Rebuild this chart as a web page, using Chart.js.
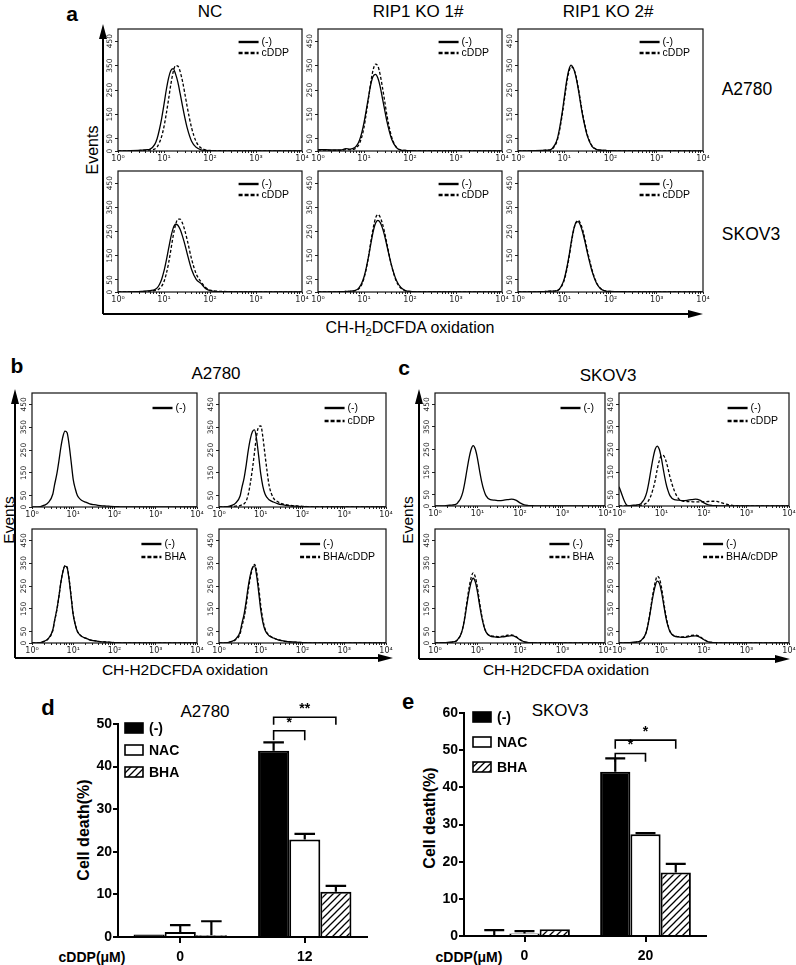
<!DOCTYPE html>
<html>
<head>
<meta charset="utf-8">
<script src="https://cdn.jsdelivr.net/npm/chart.js@4.4.1/dist/chart.umd.min.js"></script>
<style>
  body { margin: 0; width: 796px; height: 965px; position: relative; overflow: hidden; background: #fff;
         font-family: 'Liberation Sans', Arial, sans-serif; color: #000; }
  canvas { position: absolute; }
  .t { position: absolute; white-space: nowrap; line-height: 1; transform: translate(-50%, -50%); }
  .r { transform: translate(-50%, -50%) rotate(-90deg); }
  .b { font-weight: bold; }
  .n { font-family: 'Liberation Sans Narrow', 'Liberation Sans', Arial, sans-serif; font-weight: bold; }
  sub { font-size: 70%; vertical-align: -3px; line-height: 0; }
</style>
</head>
<body>
<svg width="796" height="965" style="position:absolute;left:0;top:0" stroke="#000" stroke-width="2" fill="#000">
  <line x1="103" y1="314" x2="103" y2="36"/><polygon stroke="none" points="103,24 99,39 107,39"/>
  <line x1="103" y1="314" x2="690" y2="314"/><polygon stroke="none" points="703,314 688,310 688,318"/>
  <line x1="15" y1="658" x2="15" y2="402"/><polygon stroke="none" points="15,389 11,404 19,404"/>
  <line x1="15" y1="658" x2="380" y2="658"/><polygon stroke="none" points="393,658 378,654 378,662"/>
  <line x1="419" y1="659" x2="419" y2="402"/><polygon stroke="none" points="419,389 415,404 423,404"/>
  <line x1="419" y1="659" x2="776" y2="659"/><polygon stroke="none" points="790,659 775,655 775,663"/>
</svg>

<div class="t b" style="left:72px;top:13px;font-size:21px">a</div>
<div class="t" style="left:210px;top:11px;font-size:17px">NC</div>
<div class="t" style="left:418px;top:11px;font-size:17px">RIP1 KO 1#</div>
<div class="t" style="left:608px;top:11px;font-size:17px">RIP1 KO 2#</div>
<div class="t" style="left:747px;top:90px;font-size:17.5px">A2780</div>
<div class="t" style="left:751px;top:235px;font-size:17.5px">SKOV3</div>
<div class="t r" style="left:93px;top:150px;font-size:16px">Events</div>
<div class="t" style="left:410px;top:328px;font-size:16px">CH-H<sub>2</sub>DCFDA oxidation</div>

<div class="t b" style="left:17px;top:365px;font-size:21px">b</div>
<div class="t" style="left:216px;top:373px;font-size:17px">A2780</div>
<div class="t r" style="left:9px;top:520px;font-size:15.5px">Events</div>
<div class="t" style="left:185px;top:670px;font-size:15.5px">CH-H2DCFDA oxidation</div>

<div class="t b" style="left:404px;top:367px;font-size:21px">c</div>
<div class="t" style="left:608px;top:375px;font-size:17px">SKOV3</div>
<div class="t r" style="left:408px;top:520px;font-size:15.5px">Events</div>
<div class="t" style="left:566px;top:670px;font-size:15.5px">CH-H2DCFDA oxidation</div>

<div class="t b" style="left:48px;top:708px;font-size:22px">d</div>
<div class="t" style="left:205px;top:711px;font-size:17px">A2780</div>
<div class="t r n" style="left:84px;top:830px;font-size:16px">Cell death(%)</div>
<div class="t n" style="left:92px;top:957px;font-size:14px">cDDP(μM)</div>

<div class="t b" style="left:408px;top:702px;font-size:22px">e</div>
<div class="t" style="left:560px;top:710px;font-size:17px">SKOV3</div>
<div class="t r n" style="left:430px;top:818px;font-size:16px">Cell death(%)</div>
<div class="t n" style="left:469px;top:957px;font-size:14px">cDDP(μM)</div>

<script>
// ---------- flow histogram data (fluorescence channel -> events) ----------
const channelsA = [1, 3.2, 4, 5, 6.3, 7.1, 7.9, 8.9, 10, 11.2, 12.6, 14.1, 15.8, 17.8, 20, 22.4, 25.1, 28.2, 31.6, 39.8, 50.1, 63.1, 79.4, 100, 200, 1000, 10000];
const channelsBC = [1, 1.6, 2, 2.5, 3.2, 3.5, 4, 4.5, 5, 5.6, 6.3, 7.1, 7.9, 8.9, 10, 11.2, 12.6, 14.1, 15.8, 20, 25.1, 31.6, 39.8, 50.1, 63.1, 79.4, 100, 126, 158, 200, 251, 316, 501, 1000, 10000];

// panel a, A2780 row
const a2780NcCtrl = [0, 3, 5, 8, 27, 51, 86, 134, 191, 250, 300, 330, 338, 316, 282, 236, 187, 139, 98, 40, 15, 5, 2, 1, 0, 0, 0];
const a2780NcCddp = [0, 2, 3, 4, 8, 17, 33, 60, 100, 152, 213, 274, 323, 350, 348, 326, 288, 238, 186, 95, 38, 13, 5, 2, 1, 0, 0];
const a2780Ko1Ctrl = [6, 4, 10, 8, 14, 25, 42, 73, 116, 168, 224, 274, 306, 314, 299, 265, 217, 168, 120, 49, 15, 4, 2, 1, 0, 0, 0];
const a2780Ko1Cddp = [4, 2, 6, 5, 9, 16, 29, 56, 97, 154, 219, 283, 333, 356, 348, 314, 262, 204, 145, 58, 17, 4, 2, 1, 0, 0, 0];
const a2780Ko2Ctrl = [0, 2, 3, 5, 26, 51, 92, 150, 218, 284, 333, 352, 339, 306, 256, 198, 143, 98, 61, 19, 6, 3, 2, 1, 0, 0, 0];
const a2780Ko2Cddp = [0, 2, 3, 4, 22, 45, 84, 140, 206, 272, 324, 345, 338, 310, 262, 206, 150, 104, 66, 21, 7, 3, 2, 1, 0, 0, 0];
// panel a, SKOV3 row
const skov3NcCtrl = [0, 2, 4, 6, 10, 17, 30, 53, 87, 130, 180, 227, 263, 280, 276, 259, 232, 199, 162, 93, 52, 36, 15, 6, 1, 0, 0];
const skov3NcCddp = [0, 1, 2, 4, 6, 8, 13, 24, 43, 75, 120, 174, 231, 277, 301, 301, 285, 256, 219, 136, 75, 43, 20, 8, 2, 0, 0];
const skov3Ko1Ctrl = [0, 1, 2, 3, 6, 10, 19, 36, 62, 100, 148, 200, 249, 284, 296, 288, 265, 231, 190, 109, 50, 19, 6, 2, 0, 0, 0];
const skov3Ko1Cddp = [0, 1, 2, 3, 5, 8, 15, 30, 57, 96, 149, 208, 263, 305, 320, 310, 283, 244, 198, 108, 46, 16, 5, 2, 0, 0, 0];
const skov3Ko2Ctrl = [0, 1, 2, 3, 4, 6, 13, 29, 54, 94, 146, 204, 255, 286, 291, 275, 246, 206, 163, 86, 35, 11, 4, 2, 1, 0, 0];
const skov3Ko2Cddp = [0, 1, 2, 3, 4, 6, 12, 26, 49, 87, 139, 198, 251, 286, 296, 283, 256, 216, 172, 92, 38, 12, 4, 2, 1, 0, 0];

// panel b, A2780 with BHA
const bCtrl = [0, 2, 8, 20, 57, 95, 145, 203, 261, 308, 333, 326, 276, 198, 120, 80, 50, 38, 30, 21, 14, 10, 7, 5, 4, 3, 2, 1, 0, 0, 0, 0, 0, 0, 0];
const bCtrl2 = [0, 2, 7, 17, 48, 82, 128, 186, 246, 297, 330, 338, 300, 225, 145, 92, 58, 42, 32, 22, 15, 10, 7, 5, 4, 3, 2, 1, 0, 0, 0, 0, 0, 0, 0];
const bCddp = [0, 1, 2, 4, 6, 9, 14, 28, 54, 102, 165, 241, 309, 352, 356, 309, 231, 160, 96, 40, 24, 15, 10, 7, 5, 4, 3, 2, 1, 0, 0, 0, 0, 0, 0];
const bCtrl3 = [0, 2, 8, 20, 58, 96, 147, 206, 265, 312, 337, 330, 280, 200, 122, 80, 50, 38, 30, 21, 14, 10, 7, 5, 4, 3, 2, 1, 0, 0, 0, 0, 0, 0, 0];
const bBha = [0, 2, 7, 19, 55, 93, 144, 204, 264, 313, 339, 333, 284, 205, 126, 82, 52, 39, 30, 21, 14, 10, 7, 5, 4, 3, 2, 1, 0, 0, 0, 0, 0, 0, 0];
const bBhaCddp = [0, 2, 6, 14, 40, 70, 112, 168, 230, 285, 326, 345, 318, 248, 165, 104, 64, 45, 34, 23, 15, 10, 7, 5, 4, 3, 2, 1, 0, 0, 0, 0, 0, 0, 0];

// panel c, SKOV3 with BHA
const cCtrl = [0, 1, 3, 4, 9, 17, 33, 60, 101, 156, 210, 251, 267, 251, 210, 156, 106, 70, 46, 28, 26, 24, 25, 28, 30, 26, 14, 5, 2, 1, 0, 0, 0, 0, 0];
const cCtrl2 = [85, 1, 3, 4, 9, 17, 33, 60, 101, 156, 210, 251, 265, 250, 208, 155, 105, 70, 46, 28, 26, 24, 25, 28, 30, 26, 14, 5, 2, 1, 0, 0, 0, 0, 0];
const cCddp = [0, 1, 1, 2, 3, 5, 8, 14, 25, 44, 74, 113, 161, 201, 224, 223, 202, 169, 129, 68, 33, 22, 20, 19, 18, 18, 19, 20, 21, 20, 15, 9, 2, 0, 0];
const cCtrl3 = [0, 1, 3, 4, 10, 18, 35, 64, 107, 166, 223, 267, 284, 267, 223, 166, 113, 74, 49, 30, 27, 25, 27, 30, 32, 27, 14, 5, 2, 1, 0, 0, 0, 0, 0];
const cBha = [0, 1, 2, 4, 9, 17, 34, 66, 113, 177, 240, 288, 308, 289, 241, 178, 120, 78, 50, 32, 30, 28, 30, 34, 35, 29, 15, 5, 2, 1, 0, 0, 0, 0, 0];
const cCtrl4 = [0, 1, 3, 4, 9, 16, 30, 56, 96, 150, 206, 250, 271, 262, 224, 170, 115, 76, 50, 30, 27, 25, 26, 30, 31, 26, 14, 5, 2, 1, 0, 0, 0, 0, 0];
const cBhaCddp = [0, 1, 2, 4, 8, 15, 29, 56, 98, 156, 217, 266, 292, 284, 243, 184, 124, 81, 52, 31, 28, 27, 29, 33, 34, 28, 15, 5, 2, 1, 0, 0, 0, 0, 0];

const histYTicks = [0, 50, 150, 250, 350, 450];
const histDecades = [1, 10, 100, 1000, 10000];
const histDecadeLabels = ['10⁰', '10¹', '10²', '10³', '10⁴'];
const histMinor = [2, 3, 4, 5, 6, 7, 8, 9];

// ---------- cell death bar data ----------
const groupNames = ['(-)', 'NAC', 'BHA'];
const dCats = ['0', '12'];
const dCtrl = [0.6, 43.7], dCtrlErr = [0, 2.0];
const dNac = [1.2, 22.9], dNacErr = [1.6, 1.3];
const dBha = [0.4, 10.6], dBhaErr = [3.3, 1.4];
const eCats = ['0', '20'];
const eCtrl = [0.2, 44.2], eCtrlErr = [1.4, 3.6];
const eNac = [0.7, 27.4], eNacErr = [0.6, 0.3];
const eBha = [1.8, 17.1], eBhaErr = [0, 2.3];
// [from group, to group, level, leg length, label] on the treated category
const dBrackets = [[0, 2, 51.6, 1.8, '**'], [0, 1, 48.4, 2.2, '*']];
const eBrackets = [[0, 2, 52.7, 2.3, '*'], [0, 1, 49.1, 2.2, '*']];

Chart.defaults.font.family = "'Liberation Sans', Arial, sans-serif";
Chart.defaults.color = '#000';
const NARROW = "'Liberation Sans Narrow', 'Liberation Sans', Arial, sans-serif";

const histXTicks = histDecades.slice(0, 4).flatMap(d => [d, ...histMinor.map(m => m * d)]).concat([10000]);

function addCanvas(left, top, w, h) {
  const c = document.createElement('canvas');
  c.width = w; c.height = h;
  Object.assign(c.style, { left: left + 'px', top: top + 'px', width: w + 'px', height: h + 'px' });
  document.body.appendChild(c);
  return c;
}

// frame, rotated y labels and line legend of a histogram
const histDeco = {
  id: 'histDeco',
  afterDraw(chart, args, o) {
    const { ctx, chartArea: a, scales: { y } } = chart;
    ctx.save();
    ctx.strokeStyle = '#111'; ctx.lineWidth = 1.2;
    ctx.strokeRect(a.left, a.top, a.right - a.left, a.bottom - a.top);
    ctx.fillStyle = '#222'; ctx.font = "7.5px 'DejaVu Sans'";
    ctx.textAlign = 'center'; ctx.textBaseline = 'middle';
    histYTicks.forEach(v => {
      ctx.save();
      ctx.translate(a.left - 8, y.getPixelForValue(v));
      ctx.rotate(-Math.PI / 2);
      ctx.fillText(String(v), 0, 0);
      ctx.restore();
    });
    ctx.fillStyle = '#000'; ctx.strokeStyle = '#000';
    ctx.font = "10.5px 'Liberation Sans'";
    ctx.textAlign = 'left';
    const ds = chart.data.datasets;
    const tw = Math.max(...ds.map(d => ctx.measureText(d.label).width));
    const x0 = a.right - o.right - tw - 23;
    ds.forEach((d, i) => {
      const yy = a.top + o.top + i * o.gap;
      ctx.lineWidth = 2.4;
      ctx.setLineDash(i ? [4, 2] : []);
      ctx.beginPath(); ctx.moveTo(x0, yy); ctx.lineTo(x0 + 20, yy); ctx.stroke();
      ctx.setLineDash([]);
      ctx.fillText(d.label, x0 + 23, yy);
    });
    ctx.restore();
  }
};

const H_LEFT = 20, H_RIGHT = 10, H_TOP = 4, H_BOTTOM = 16;
function histogram(box, channels, curves, labels, leg) {
  const w = box[1] - box[0] + H_LEFT + H_RIGHT, h = box[3] - box[2] + H_TOP + H_BOTTOM;
  const c = addCanvas(box[0] - H_LEFT, box[2] - H_TOP, w, h);
  new Chart(c, {
    type: 'line',
    data: {
      datasets: curves.map((ys, i) => ({
        label: labels[i],
        data: channels.map((x, k) => ({ x: x, y: ys[k] })),
        borderColor: '#000', borderWidth: 1.3, borderDash: i ? [3, 2] : [],
        pointRadius: 0, fill: false, cubicInterpolationMode: 'monotone'
      }))
    },
    options: {
      responsive: false, animation: false, events: [],
      layout: { padding: { top: H_TOP, right: H_RIGHT, left: 0, bottom: 0 } },
      plugins: { legend: { display: false }, tooltip: { enabled: false }, histDeco: leg },
      scales: {
        x: {
          type: 'logarithmic', min: 1, max: 10000,
          afterBuildTicks: s => { s.ticks = histXTicks.map(v => ({ value: v })); },
          afterFit: s => { s.height = H_BOTTOM; },
          ticks: {
            autoSkip: false, maxRotation: 0, minRotation: 0, padding: 1, color: '#222',
            font: { family: "'DejaVu Sans'", size: 8 },
            callback: v => { const k = histDecades.indexOf(v); return k < 0 ? '' : histDecadeLabels[k]; }
          },
          grid: { drawOnChartArea: false, tickLength: 2, color: '#222' },
          border: { display: false }
        },
        y: {
          min: 0, max: 500,
          afterBuildTicks: s => { s.ticks = histYTicks.map(v => ({ value: v })); },
          afterFit: s => { s.width = H_LEFT; },
          ticks: { display: false },
          grid: { drawOnChartArea: false, tickLength: 3, color: '#222' },
          border: { display: false }
        }
      }
    },
    plugins: [histDeco]
  });
}

const legA = { top: 13, gap: 11, right: 13 };
const legBC = { top: 15, gap: 13, right: 11 };
const ctrlCddp = ['(-)', 'cDDP'];

// panel a
histogram([118, 302, 29, 151], channelsA, [a2780NcCtrl, a2780NcCddp], ctrlCddp, legA);
histogram([318, 502, 29, 151], channelsA, [a2780Ko1Ctrl, a2780Ko1Cddp], ctrlCddp, legA);
histogram([518, 703, 29, 151], channelsA, [a2780Ko2Ctrl, a2780Ko2Cddp], ctrlCddp, legA);
histogram([118, 302, 171, 292], channelsA, [skov3NcCtrl, skov3NcCddp], ctrlCddp, legA);
histogram([318, 502, 171, 292], channelsA, [skov3Ko1Ctrl, skov3Ko1Cddp], ctrlCddp, legA);
histogram([518, 703, 171, 292], channelsA, [skov3Ko2Ctrl, skov3Ko2Cddp], ctrlCddp, legA);
// panel b
histogram([32, 197, 393, 507], channelsBC, [bCtrl], ['(-)'], legBC);
histogram([219, 386, 393, 507], channelsBC, [bCtrl2, bCddp], ctrlCddp, legBC);
histogram([32, 197, 529, 643], channelsBC, [bCtrl3, bBha], ['(-)', 'BHA'], legBC);
histogram([219, 386, 529, 643], channelsBC, [bCtrl2, bBhaCddp], ['(-)', 'BHA/cDDP'], legBC);
// panel c
histogram([435, 605, 393, 506], channelsBC, [cCtrl], ['(-)'], legBC);
histogram([619, 789, 393, 506], channelsBC, [cCtrl2, cCddp], ctrlCddp, legBC);
histogram([435, 605, 529, 643], channelsBC, [cCtrl3, cBha], ['(-)', 'BHA'], legBC);
histogram([619, 789, 529, 643], channelsBC, [cCtrl4, cBhaCddp], ['(-)', 'BHA/cDDP'], legBC);

// ---------- bar charts ----------
function hatchPattern() {
  const t = document.createElement('canvas');
  t.width = t.height = 7;
  const g = t.getContext('2d');
  g.fillStyle = '#fff'; g.fillRect(0, 0, 7, 7);
  g.strokeStyle = '#000'; g.lineWidth = 1.3;
  g.beginPath();
  g.moveTo(-1, 8); g.lineTo(8, -1);
  g.moveTo(-1, 1); g.lineTo(1, -1);
  g.moveTo(6, 8); g.lineTo(8, 6);
  g.stroke();
  return g.createPattern(t, 'repeat');
}
const barFills = ['#000', '#fff', hatchPattern()];

const barDeco = {
  id: 'barDeco',
  afterDraw(chart, args, o) {
    const { ctx, chartArea: a, scales: { y } } = chart;
    ctx.save();
    ctx.strokeStyle = '#000'; ctx.fillStyle = '#000';
    // error bars (upper only)
    ctx.lineWidth = 2.2;
    o.errors.forEach((errs, i) => {
      chart.getDatasetMeta(i).data.forEach((bar, j) => {
        if (!errs[j]) return;
        const top = y.getPixelForValue(chart.data.datasets[i].data[j] + errs[j]);
        const cw = bar.width * 0.33;
        ctx.beginPath();
        ctx.moveTo(bar.x, bar.y); ctx.lineTo(bar.x, top);
        ctx.moveTo(bar.x - cw, top); ctx.lineTo(bar.x + cw, top);
        ctx.stroke();
      });
    });
    // significance brackets
    ctx.lineWidth = 1.6;
    ctx.font = 'bold 14px ' + NARROW;
    ctx.textAlign = 'center'; ctx.textBaseline = 'bottom';
    o.brackets.forEach(([p, q, lvl, leg, txt]) => {
      const x1 = chart.getDatasetMeta(p).data[1].x, x2 = chart.getDatasetMeta(q).data[1].x;
      const yl = y.getPixelForValue(lvl), yb = y.getPixelForValue(lvl - leg);
      ctx.beginPath();
      ctx.moveTo(x1, yb); ctx.lineTo(x1, yl); ctx.lineTo(x2, yl); ctx.lineTo(x2, yb);
      ctx.stroke();
      ctx.fillText(txt, (x1 + x2) / 2, yl - 1);
    });
    // legend
    ctx.font = 'bold 14px ' + NARROW;
    ctx.textAlign = 'left'; ctx.textBaseline = 'middle';
    ctx.lineWidth = 1.6;
    chart.data.datasets.forEach((d, i) => {
      const lx = a.left + o.legLeft, ly = a.top + o.legTop + i * o.legGap;
      ctx.fillStyle = d.backgroundColor;
      ctx.fillRect(lx, ly - 5, 18, 10);
      ctx.strokeRect(lx, ly - 5, 18, 10);
      ctx.fillStyle = '#000';
      ctx.fillText(d.label, lx + 24, ly + 1);
    });
    ctx.restore();
  }
};

const B_LEFT = 48, B_RIGHT = 12, B_TOP = 36, B_BOTTOM = 28;
function barChart(area, cats, values, ymax, deco) {
  const w = area[1] - area[0] + B_LEFT + B_RIGHT, h = area[3] - area[2] + B_TOP + B_BOTTOM;
  const c = addCanvas(area[0] - B_LEFT, area[2] - B_TOP, w, h);
  const tickFont = { family: NARROW, size: 14, weight: 'bold' };
  new Chart(c, {
    type: 'bar',
    data: {
      labels: cats,
      datasets: values.map((v, i) => ({
        label: groupNames[i], data: v, backgroundColor: barFills[i],
        borderColor: '#000', borderWidth: 2, categoryPercentage: 0.75, barPercentage: 1
      }))
    },
    options: {
      responsive: false, animation: false, events: [],
      layout: { padding: { top: B_TOP, right: B_RIGHT, left: 0, bottom: 0 } },
      plugins: { legend: { display: false }, tooltip: { enabled: false }, barDeco: deco },
      scales: {
        x: {
          afterFit: s => { s.height = B_BOTTOM; },
          grid: { drawOnChartArea: false, offset: false, tickLength: 6, lineWidth: 2, color: '#000' },
          border: { width: 2, color: '#000' },
          ticks: { padding: 6, font: tickFont }
        },
        y: {
          min: 0, max: ymax,
          afterFit: s => { s.width = B_LEFT; },
          ticks: { stepSize: 10, padding: 1, font: tickFont },
          grid: { drawOnChartArea: false, tickLength: 5, lineWidth: 2, color: '#000' },
          border: { width: 2, color: '#000' }
        }
      }
    },
    plugins: [barDeco]
  });
}

barChart([118, 367, 724, 937], dCats, [dCtrl, dNac, dBha], 50,
  { errors: [dCtrlErr, dNacErr, dBhaErr], brackets: dBrackets, legLeft: 7, legTop: 4, legGap: 22 });
barChart([464, 706, 713, 936], eCats, [eCtrl, eNac, eBha], 60,
  { errors: [eCtrlErr, eNacErr, eBhaErr], brackets: eBrackets, legLeft: 9, legTop: 4, legGap: 25 });
</script>
</body>
</html>
